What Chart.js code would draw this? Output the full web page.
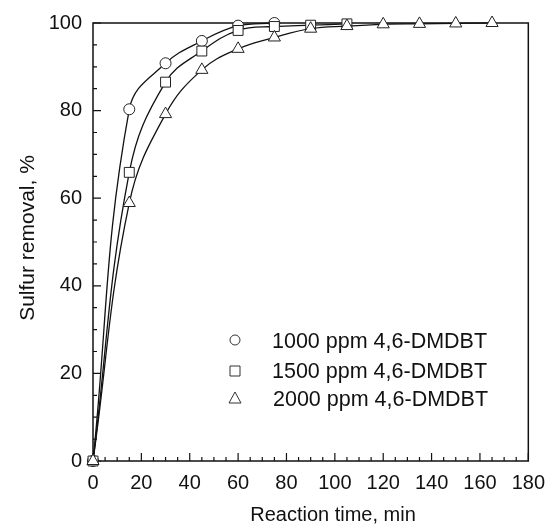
<!DOCTYPE html>
<html><head><meta charset="utf-8">
<script src="https://cdn.jsdelivr.net/npm/chart.js@4"></script>
<style>html,body{margin:0;padding:0;background:#fff}#wrap{width:555px;height:531px}</style>
</head><body><div id="wrap"><canvas id="c" width="555" height="531"></canvas></div>
<script>
// Data
const times1000 = [0, 15, 30, 45, 60, 75];
const removal1000 = [0, 80.3, 90.8, 95.9, 99.4, 100];
const times1500 = [0, 15, 30, 45, 60, 75, 90, 105];
const removal1500 = [0, 65.9, 86.5, 93.6, 98.3, 99.2, 99.5, 99.8];
const times2000 = [0, 15, 30, 45, 60, 75, 90, 105, 120, 135, 150, 165];
const removal2000 = [0, 58.9, 79.2, 89.3, 94.1, 96.7, 98.7, 99.3, 99.7, 99.8, 99.9, 100];
const seriesLabels = ['1000 ppm 4,6-DMDBT', '1500 ppm 4,6-DMDBT', '2000 ppm 4,6-DMDBT'];
const seriesMarkers = ['circle', 'rect', 'triangle'];
const xTitle = 'Reaction time, min';
const yTitle = 'Sulfur removal, %';

const FONT = '"Liberation Sans", Arial, sans-serif';
const toXY = (xs, ys) => xs.map((x, i) => ({x: x, y: ys[i]}));

function ds(label, xs, ys, marker, r) {
  return {
    label: label, data: toXY(xs, ys),
    borderColor: '#111', borderWidth: 1.3,
    pointStyle: marker, pointRadius: r, pointHoverRadius: r,
    pointBackgroundColor: '#fff', pointBorderColor: '#222', pointBorderWidth: 1,
    tension: 0.4, fill: false, clip: false
  };
}

const framePlugin = {
  id: 'frame',
  beforeDatasetsDraw(chart) {
    const ctx = chart.ctx, a = chart.chartArea;
    const xs = chart.scales.x, ys = chart.scales.y;
    ctx.save();
    ctx.strokeStyle = '#111';
    ctx.lineWidth = 1.5;
    ctx.strokeRect(a.left, a.top, a.right - a.left, a.bottom - a.top);
    ctx.lineWidth = 1.2;
    ctx.beginPath();
    for (let v = 0; v <= 180; v += 5) {
      const px = xs.getPixelForValue(v);
      const len = (v % 20 === 0) ? 8 : 4;
      ctx.moveTo(px, a.bottom); ctx.lineTo(px, a.bottom - len);
    }
    for (let v = 0; v <= 100; v += 5) {
      const py = ys.getPixelForValue(v);
      const len = (v % 20 === 0) ? 8 : 4;
      ctx.moveTo(a.left, py); ctx.lineTo(a.left + len, py);
    }
    ctx.stroke();
    ctx.restore();
  },
  afterDatasetsDraw(chart) {
    const ctx = chart.ctx;
    ctx.save();
    // legend
    const lx = 235, my = [340, 371, 398], ty = [342, 372, 400], tx = [272, 272, 273];
    ctx.font = '21.5px ' + FONT;
    ctx.fillStyle = '#111';
    ctx.textBaseline = 'middle';
    ctx.textAlign = 'left';
    seriesLabels.forEach((t, i) => ctx.fillText(t, tx[i], ty[i]));
    ctx.strokeStyle = '#333';
    ctx.lineWidth = 1;
    seriesMarkers.forEach((m, i) => {
      const y = my[i];
      ctx.beginPath();
      if (m === 'circle') ctx.arc(lx, y, 5, 0, Math.PI * 2);
      else if (m === 'rect') ctx.rect(lx - 5, y - 5, 10, 10);
      else { ctx.moveTo(lx, y - 6); ctx.lineTo(lx + 6, y + 5); ctx.lineTo(lx - 6, y + 5); ctx.closePath(); }
      ctx.fillStyle = '#fff'; ctx.fill(); ctx.stroke();
    });
    // axis titles
    ctx.font = '20px ' + FONT;
    ctx.fillStyle = '#111';
    ctx.textAlign = 'center';
    ctx.fillText(xTitle, 333, 515);
    ctx.save();
    ctx.font = '21px ' + FONT;
    ctx.translate(28, 238);
    ctx.rotate(-Math.PI / 2);
    ctx.fillText(yTitle, 0, 0);
    ctx.restore();
    ctx.restore();
  }
};

new Chart(document.getElementById('c'), {
  type: 'line',
  data: {
    datasets: [
      ds(seriesLabels[2], times2000, removal2000, 'triangle', 7),
      ds(seriesLabels[1], times1500, removal1500, 'rect', 7),
      ds(seriesLabels[0], times1000, removal1000, 'circle', 5.5)
    ]
  },
  options: {
    responsive: false, animation: false,
    layout: {padding: {top: 21.7, right: 21, left: 0, bottom: 0}},
    plugins: {legend: {display: false}, tooltip: {enabled: false}},
    scales: {
      x: {
        type: 'linear', min: 0, max: 180,
        grid: {display: false, drawTicks: false}, border: {display: false},
        ticks: {stepSize: 20, padding: 10, color: '#111', font: {family: FONT, size: 20}, maxRotation: 0},
        afterFit(s) { s.height = 70; }
      },
      y: {
        min: 0, max: 100,
        grid: {display: false, drawTicks: false}, border: {display: false},
        ticks: {stepSize: 20, padding: 11, color: '#111', font: {family: FONT, size: 20}},
        afterFit(s) { s.width = 93; }
      }
    }
  },
  plugins: [framePlugin]
});
</script>
</body></html>
